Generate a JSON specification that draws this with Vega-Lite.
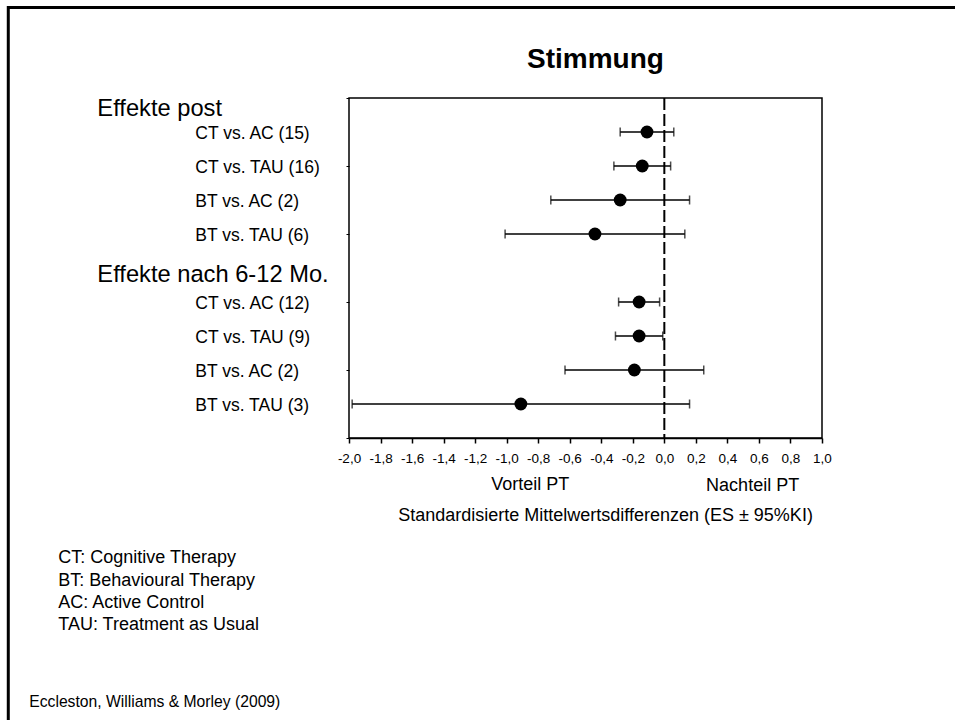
{
  "$schema": "https://vega.github.io/schema/vega-lite/v6.json",
  "width": 473,
  "height": 340,
  "autosize": {"type": "none"},
  "padding": {"left": 349, "top": 98, "right": 133, "bottom": 282},
  "background": "white",
  "config": {
    "font": "Liberation Sans",
    "view": {"stroke": "#000", "strokeWidth": 1.5},
    "text": {"font": "Liberation Sans", "color": "#000"}
  },
  "datasets": {
    "effects": [
      {"phase": "post", "label": "CT vs. AC (15)", "row": 1, "es": -0.11, "lo": -0.28, "hi": 0.06},
      {"phase": "post", "label": "CT vs. TAU (16)", "row": 2, "es": -0.14, "lo": -0.32, "hi": 0.04},
      {"phase": "post", "label": "BT vs. AC (2)", "row": 3, "es": -0.28, "lo": -0.72, "hi": 0.16},
      {"phase": "post", "label": "BT vs. TAU (6)", "row": 4, "es": -0.44, "lo": -1.01, "hi": 0.13},
      {"phase": "6-12 Mo.", "label": "CT vs. AC (12)", "row": 6, "es": -0.16, "lo": -0.29, "hi": -0.03},
      {"phase": "6-12 Mo.", "label": "CT vs. TAU (9)", "row": 7, "es": -0.16, "lo": -0.31, "hi": -0.01},
      {"phase": "6-12 Mo.", "label": "BT vs. AC (2)", "row": 8, "es": -0.19, "lo": -0.63, "hi": 0.25},
      {"phase": "6-12 Mo.", "label": "BT vs. TAU (3)", "row": 9, "es": -0.91, "lo": -1.98, "hi": 0.16}
    ]
  },
  "data": {"name": "effects"},
  "layer": [
    {
      "mark": {"type": "rule", "color": "#000", "strokeWidth": 1.5},
      "encoding": {
        "x": {
          "field": "lo",
          "type": "quantitative",
          "scale": {"domain": [-2, 1], "nice": false, "zero": false},
          "axis": {
            "values": [-2, -1.8, -1.6, -1.4, -1.2, -1, -0.8, -0.6, -0.4, -0.2, 0, 0.2, 0.4, 0.6, 0.8, 1],
            "tickCount": 20,
            "labelExpr": "replace(replace(format(datum.value, '.1f'), '.', ','), '\u2212', '-')",
            "labelFont": "Liberation Sans",
            "labelFontSize": 13.5,
            "labelColor": "#000",
            "labelPadding": 8.5,
            "labelFlush": false,
            "labelOverlap": false,
            "ticks": true,
            "tickSize": 5,
            "tickColor": "#000",
            "tickWidth": 1.5,
            "domain": true,
            "domainColor": "#000",
            "domainWidth": 1.5,
            "grid": false,
            "title": "Standardisierte Mittelwertsdifferenzen (ES ± 95%KI)",
            "titleFont": "Liberation Sans",
            "titleFontSize": 18,
            "titleFontWeight": "normal",
            "titleColor": "#000",
            "titleX": 256,
            "titleY": 82,
            "titleAlign": "center",
            "titleBaseline": "alphabetic"
          }
        },
        "x2": {"field": "hi"},
        "y": {
          "field": "row",
          "type": "quantitative",
          "scale": {"domain": [0, 10], "nice": false, "zero": false, "reverse": true},
          "axis": {
            "values": [0, 2, 4, 6, 8, 10],
            "tickCount": 20,
            "labels": false,
            "domain": false,
            "grid": false,
            "ticks": true,
            "tickSize": 3,
            "tickColor": "#000",
            "tickWidth": 1,
            "title": null
          }
        }
      }
    },
    {
      "data": {"values": [{}]},
      "mark": {"type": "rect", "filled": false, "stroke": "#000", "strokeWidth": 3},
      "encoding": {
        "x": {"datum": -4.161, "scale": {"domain": [-2, 1], "nice": false, "zero": false}},
        "x2": {"datum": 2.3},
        "y": {"datum": -2.665, "scale": {"domain": [0, 10], "nice": false, "zero": false, "reverse": true}},
        "y2": {"datum": 19.5}
      }
    },
    {
      "data": {"values": [{}]},
      "mark": {"type": "rule", "color": "#000", "strokeWidth": 2, "strokeDash": [12, 4]},
      "encoding": {
        "x": {"datum": 0, "scale": {"domain": [-2, 1], "nice": false, "zero": false}}
      }
    },
    {
      "mark": {"type": "tick", "orient": "vertical", "color": "#000", "size": 9, "thickness": 1.5},
      "encoding": {
        "x": {"field": "lo", "type": "quantitative", "scale": {"domain": [-2, 1], "nice": false, "zero": false}},
        "y": {"field": "row", "type": "quantitative", "scale": {"domain": [0, 10], "nice": false, "zero": false, "reverse": true}}
      }
    },
    {
      "mark": {"type": "tick", "orient": "vertical", "color": "#000", "size": 9, "thickness": 1.5},
      "encoding": {
        "x": {"field": "hi", "type": "quantitative", "scale": {"domain": [-2, 1], "nice": false, "zero": false}},
        "y": {"field": "row", "type": "quantitative", "scale": {"domain": [0, 10], "nice": false, "zero": false, "reverse": true}}
      }
    },
    {
      "mark": {"type": "point", "filled": true, "color": "#000", "opacity": 1, "size": 165},
      "encoding": {
        "x": {"field": "es", "type": "quantitative", "scale": {"domain": [-2, 1], "nice": false, "zero": false}},
        "y": {"field": "row", "type": "quantitative", "scale": {"domain": [0, 10], "nice": false, "zero": false, "reverse": true}}
      }
    },
    {
      "mark": {"type": "text", "align": "left", "baseline": "middle", "fontSize": 17.5, "dy": 2},
      "encoding": {
        "x": {"datum": -2.975, "scale": {"domain": [-2, 1], "nice": false, "zero": false}},
        "y": {"field": "row", "type": "quantitative", "scale": {"domain": [0, 10], "nice": false, "zero": false, "reverse": true}},
        "text": {"field": "label"}
      }
    },
    {
      "data": {"values": [{}]},
      "mark": {"type": "text", "text": "Stimmung", "align": "center", "baseline": "alphabetic", "fontSize": 28, "fontWeight": "bold"},
      "encoding": {
        "x": {"datum": -0.437, "scale": {"domain": [-2, 1], "nice": false, "zero": false}},
        "y": {"datum": -0.891, "scale": {"domain": [0, 10], "nice": false, "zero": false, "reverse": true}}
      }
    },
    {
      "data": {"values": [{}]},
      "mark": {"type": "text", "text": "Effekte post", "align": "left", "baseline": "alphabetic", "fontSize": 23.7},
      "encoding": {
        "x": {"datum": -3.596, "scale": {"domain": [-2, 1], "nice": false, "zero": false}},
        "y": {"datum": 0.54, "scale": {"domain": [0, 10], "nice": false, "zero": false, "reverse": true}}
      }
    },
    {
      "data": {"values": [{}]},
      "mark": {"type": "text", "text": "Effekte nach 6-12 Mo.", "align": "left", "baseline": "alphabetic", "fontSize": 23.7},
      "encoding": {
        "x": {"datum": -3.596, "scale": {"domain": [-2, 1], "nice": false, "zero": false}},
        "y": {"datum": 5.41, "scale": {"domain": [0, 10], "nice": false, "zero": false, "reverse": true}}
      }
    },
    {
      "data": {"values": [{}]},
      "mark": {"type": "text", "text": "Vorteil PT", "align": "center", "baseline": "alphabetic", "fontSize": 18},
      "encoding": {
        "x": {"datum": -0.85, "scale": {"domain": [-2, 1], "nice": false, "zero": false}},
        "y": {"datum": 11.54, "scale": {"domain": [0, 10], "nice": false, "zero": false, "reverse": true}}
      }
    },
    {
      "data": {"values": [{}]},
      "mark": {"type": "text", "text": "Nachteil PT", "align": "center", "baseline": "alphabetic", "fontSize": 18},
      "encoding": {
        "x": {"datum": 0.56, "scale": {"domain": [-2, 1], "nice": false, "zero": false}},
        "y": {"datum": 11.55, "scale": {"domain": [0, 10], "nice": false, "zero": false, "reverse": true}}
      }
    },
    {
      "data": {"values": [{}]},
      "mark": {
        "type": "text",
        "text": ["CT: Cognitive Therapy", "BT: Behavioural Therapy", "AC: Active Control", "TAU: Treatment as Usual"],
        "align": "left",
        "baseline": "alphabetic",
        "fontSize": 18,
        "lineHeight": 22.4
      },
      "encoding": {
        "x": {"datum": -3.844, "scale": {"domain": [-2, 1], "nice": false, "zero": false}},
        "y": {"datum": 13.68, "scale": {"domain": [0, 10], "nice": false, "zero": false, "reverse": true}}
      }
    },
    {
      "data": {"values": [{}]},
      "mark": {"type": "text", "text": "Eccleston, Williams & Morley (2009)", "align": "left", "baseline": "alphabetic", "fontSize": 15.7},
      "encoding": {
        "x": {"datum": -4.028, "scale": {"domain": [-2, 1], "nice": false, "zero": false}},
        "y": {"datum": 17.92, "scale": {"domain": [0, 10], "nice": false, "zero": false, "reverse": true}}
      }
    }
  ]
}
